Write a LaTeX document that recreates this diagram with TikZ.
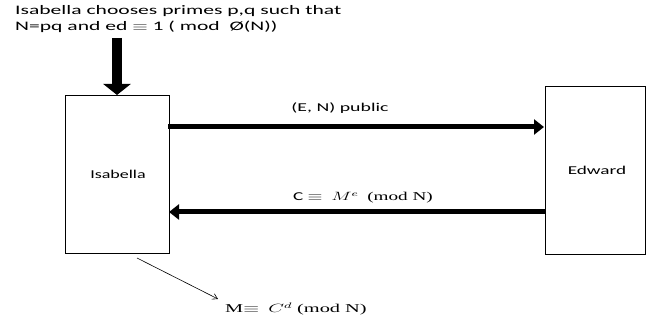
\documentclass[tikz,border=0pt]{standalone}
\usepackage{graphicx}
\usepackage{fontspec}
\setmainfont{Carlito}
\newfontfamily\serifm{Liberation Serif}
\usetikzlibrary{arrows.meta}
\newcommand\xstretch[2]{\scalebox{#1}[1]{#2}}
\begin{document}
\begin{tikzpicture}[x=1pt,y=-1pt,
  party/.style={draw,line width=1.3pt,inner sep=0pt,anchor=north west},
  thick arr/.style={line width=5pt,-{Triangle[length=10pt,width=15pt]}},
  lbl/.style={font=\fontsize{12}{12.5}\selectfont,inner sep=0pt}]
\useasboundingbox (0,0) rectangle (654,320);
\node[party,minimum width=104pt,minimum height=158pt] (isa) at (65,95) {};
\node[party,minimum width=100pt,minimum height=168pt] (edw) at (545,86) {};
\node[lbl] at (118,174) {\xstretch{1.5}{Isabella}};
\node[lbl] at (597,170) {\xstretch{1.6}{Edward}};
\node[lbl,font=\fontsize{13}{16}\selectfont,anchor=west] (top) at (15,19) {\xstretch{1.66}{\begin{tabular}{@{}l@{}}Isabella chooses primes p,q such that\\N=pq and ed $\equiv$ 1 ( mod \ Ø(N))\end{tabular}}};
\coordinate (tin) at (117,38);
\draw[line width=10pt,-{Triangle[length=11pt,width=27pt]}] (tin) -- (isa.north west -| tin);
\coordinate (a1s) at (168,127);
\coordinate (a1e) at (544,127);
\draw[thick arr] (a1s) -- (a1e);
\node[lbl] at (340,108) {\xstretch{1.65}{(E, N) public}};
\coordinate (a2s) at (545,212);
\coordinate (a2e) at (169,212);
\draw[thick arr] (a2s) -- (a2e);
\node[lbl] at (363,198) {\xstretch{1.6}{C $\equiv$ \ $M^e$ \ {\serifm (mod N)}}};
\coordinate (t1) at (137,258);
\coordinate (t2) at (218,299);
\draw[line width=0.6pt,-{Straight Barb[length=5pt,width=6pt]}] (t1) -- (t2);
\node[lbl] at (296,309) {\xstretch{1.7}{{\serifm M}$\equiv$ \ $C^d$ {\serifm (mod N)}}};
\end{tikzpicture}
\end{document}
